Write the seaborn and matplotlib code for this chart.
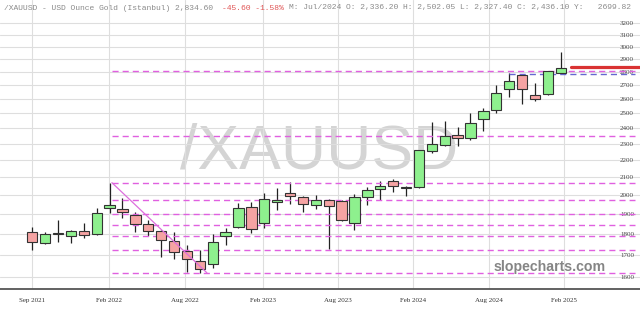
import numpy as np
import pandas as pd
import seaborn as sns
import matplotlib
matplotlib.use("Agg")
import matplotlib.pyplot as plt
from matplotlib.ticker import FixedLocator, FuncFormatter, NullLocator

# ---- data (monthly candles, Sep 2021 .. Feb 2025) ----
opens = [1811, 1758, 1800, 1790, 1815, 1800, 1931, 1927, 1897, 1849,
         1813, 1765, 1720, 1670, 1658, 1789, 1836, 1936, 1855, 1962,
         2012, 1990, 1948, 1974, 1969, 1855, 1991, 2037, 2082, 2040,
         2043, 2254, 2295, 2355, 2336, 2463, 2526, 2671, 2775, 2628,
         2639, 2789]
highs = [1832, 1810, 1870, 1819, 1854, 1932, 2070, 1985, 1910, 1870,
         1820, 1810, 1746, 1725, 1798, 1829, 1956, 1962, 2012, 2040,
         2076, 1995, 2001, 1980, 1974, 2006, 2043, 2082, 2088, 2050,
         2262, 2443, 2452, 2410, 2502, 2535, 2699, 2789, 2782, 2718,
         2808, 2953]
lows = [1723, 1750, 1762, 1758, 1782, 1795, 1907, 1882, 1811, 1792,
        1688, 1679, 1624, 1619, 1640, 1746, 1827, 1803, 1829, 1921,
        1952, 1911, 1928, 1728, 1865, 1819, 1948, 1975, 2016, 1996,
        2040, 2243, 2290, 2290, 2327, 2385, 2500, 2616, 2567, 2588,
        2628, 2780]
closes = [1762, 1801, 1806, 1813, 1795, 1907, 1946, 1910, 1848, 1815,
          1770, 1715, 1679, 1636, 1760, 1810, 1931, 1823, 1980, 1975,
          1996, 1955, 1975, 1941, 1870, 1990, 2030, 2050, 2050, 2045,
          2262, 2299, 2348, 2338, 2436, 2517, 2640, 2733, 2672, 2600,
          2808, 2827]

date_labels = ["Sep 2021", "Feb 2022", "Aug 2022", "Feb 2023",
               "Aug 2023", "Feb 2024", "Aug 2024", "Feb 2025"]
date_pos = [0, 5.96, 11.82, 17.87, 23.69, 29.56, 35.46, 41.25]

y_ticks = list(range(1600, 3300, 100))
support_levels = [2804, 2353, 2070, 1974, 1900, 1844, 1791, 1723, 1619]
trend_x = [6.18, 13.55]
trend_y = [2070, 1619]
last_price = 2834
blue_level = 2784

df = pd.DataFrame({"i": np.arange(len(opens)), "open": opens, "high": highs,
                   "low": lows, "close": closes})
df["up"] = df["close"] >= df["open"]
df["bottom"] = df[["open", "close"]].min(axis=1)
df["height"] = (df["close"] - df["open"]).abs().clip(lower=3)

sns.set_theme(style="white")
plt.rcParams["font.family"] = ["Liberation Serif", "DejaVu Serif"]

fig = plt.figure(figsize=(6.4, 3.13), dpi=100)
ax = fig.add_axes([0, 24 / 313, 1, 289 / 313])
ax.set_yscale("log")
ax.set_ylim(1549, 3406)
ax.set_xlim(-2.5, 47.15)

# watermark
ax.text(0.498, 0.475, "/XAUUSD", transform=ax.transAxes, ha="center", va="center",
        fontsize=45, color="#d4d4d4", family="Liberation Sans", zorder=0.5)
ax.text(0.858, 0.077, "slopecharts.com", transform=ax.transAxes, ha="center",
        va="center", fontsize=10.2, color="#858585", fontweight="bold",
        family="Liberation Sans", zorder=4)

# wicks
ax.vlines(df["i"], df["low"], df["high"], color="#222222", lw=0.9, zorder=2)
# bodies
colors = np.where(df["up"], "#8ef08e", "#f5a3a3")
ax.bar(df["i"], df["height"], bottom=df["bottom"], width=0.8, color=colors,
       edgecolor="#333333", linewidth=0.8, zorder=3)

# support/resistance dashed lines
for lv in support_levels:
    ax.plot([6.18, 46.75], [lv, lv], color="#e060e0", lw=1.0,
            dashes=(4.4, 2.9), zorder=2.5)
ax.plot(trend_x, trend_y, color="#dd6fdd", lw=0.9, zorder=3.5)
ax.plot([37, 46.75], [blue_level, blue_level], color="#6666d0", lw=1.0,
        dashes=(4.4, 2.9), zorder=2.5)
ax.plot([41.8, 47.15], [last_price, last_price], color="#d93232", lw=2.3, zorder=4)

# axes styling
ax.yaxis.set_major_locator(FixedLocator(y_ticks))
ax.yaxis.set_minor_locator(NullLocator())
ax.yaxis.set_major_formatter(FuncFormatter(lambda v, p: f"{int(round(v))}"))
ax.yaxis.tick_right()
ax.tick_params(axis="y", length=0, pad=-14.4, labelsize=5, labelcolor="#444444")
ax.set_xticks(date_pos)
ax.set_xticklabels(date_labels)
ax.tick_params(axis="x", length=0, pad=6.5, labelsize=5, labelcolor="#333333")
for lbl in ax.get_yticklabels():
    lbl.set_horizontalalignment("left")
ax.grid(True, color="#dedede", lw=0.8, zorder=0)
ax.set_axisbelow(True)
for s in ["top", "left", "right"]:
    ax.spines[s].set_visible(False)
ax.spines["bottom"].set_color("#555555")
ax.spines["bottom"].set_linewidth(1.3)

# header
cw = 0.6 * 5.8 * 100 / 72
hy = 1 - 8 / 313
mono = dict(fontsize=5.8, family="Liberation Mono", va="center", ha="left")
part1 = "/XAUUSD - USD Ounce Gold (Istanbul) 2,834.60 "
part2 = "-45.60 -1.58% "
part3 = "M: Jul/2024 O: 2,336.20 H: 2,502.05 L: 2,327.40 C: 2,436.10 Y:   2699.82"
x0 = 4
fig.text(x0 / 640, hy, part1, color="#8a8a8a", **mono)
fig.text((x0 + len(part1) * cw) / 640, hy, part2, color="#e05555", **mono)
fig.text((x0 + (len(part1) + len(part2)) * cw) / 640, hy, part3, color="#8a8a8a", **mono)

fig.savefig("out.png", dpi=100, facecolor="white")
